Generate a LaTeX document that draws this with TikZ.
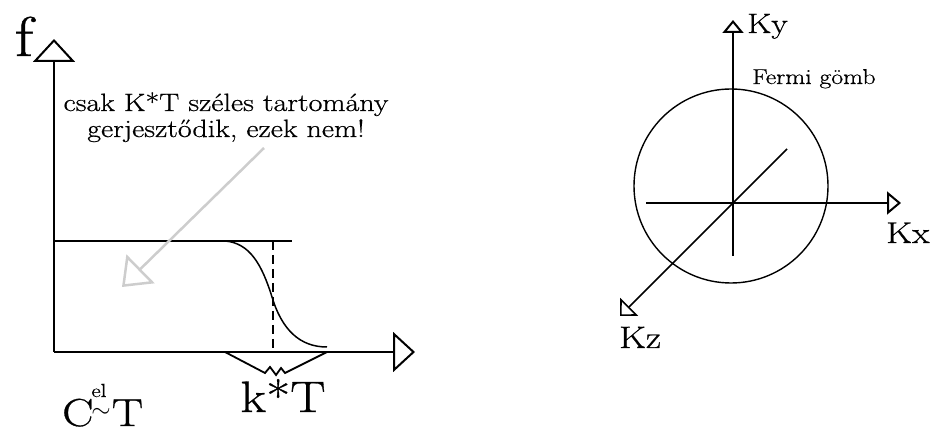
\documentclass[tikz,border=0pt]{standalone}
\usepackage{fontspec}
\setmainfont{Latin Modern Roman}[FakeStretch=1.2,FakeBold=0.7]
\usepackage{tikz}
\usetikzlibrary{arrows.meta}
\definecolor{hintgray}{RGB}{205,205,205}

\begin{document}
\begin{tikzpicture}[x=1pt,y=-1pt,
  axis/.style={line width=2pt},
  bigtip/.style={-{Triangle[open,length=23pt,width=42pt]}},
  smalltip/.style={-{Triangle[open,length=14pt,width=23pt]}},
  lbl/.style={inner sep=0pt,anchor=base west}]
\useasboundingbox (0,0) rectangle (931,427);
% eloszlasfuggveny
\coordinate (O) at (54,352);
\coordinate (ftip) at (54,39);
\coordinate (Etip) at (415,352);
\coordinate (top0) at (54,241);
\coordinate (top1) at (292,241);
\coordinate (kink) at (225,241);
\coordinate (mid) at (272,297);
\coordinate (tail) at (327,347);
\coordinate (dtop) at (273,241);
\coordinate (dbot) at (273,352);
\coordinate (bl) at (225,352);
\coordinate (br) at (327,352);
\draw[axis,bigtip] (O) -- (ftip);
\draw[axis,-{Triangle[open,length=22pt,width=40pt]}] (O) -- (Etip);
\draw[axis] (top0) -- (top1);
\draw[line width=1.5pt] (kink) .. controls (250,243) and (262,265) .. (mid)
  .. controls (282,330) and (300,347) .. (tail);
\draw[line width=2.5pt,dash pattern=on 9pt off 5pt] (dtop) -- (dbot);
\draw[line width=1.8pt] (bl) -- (265,373) -- (270,367) -- (276,375) -- (281,368)
  -- (285,373) -- (br);
\node[inner sep=0pt,anchor=base] (f) at (24,56) {\fontsize{56}{56}\selectfont f};
\node[inner sep=0pt,anchor=base] (line1) at (226,111)
  {\fontsize{25}{28}\selectfont csak K*T széles tartomány};
\node[inner sep=0pt,anchor=base] (line2) at (226,137)
  {\fontsize{25}{28}\selectfont gerjesztődik, ezek nem!};
\coordinate (hstart) at (264,148);
\coordinate (htip) at (122,287);
\draw[hintgray,line width=2.5pt,-{Triangle[open,length=26pt,width=40pt]}] (hstart) -- (htip);
\node[inner sep=0pt,anchor=base] (kT) at (283,412) {\fontsize{44}{44}\selectfont k*T};
\node[lbl] (Cel) at (62,426)
  {\fontsize{39}{39}\selectfont C\hspace{-2pt}\rlap{\raisebox{29pt}{\fontsize{19}{19}\selectfont el}}%
   \raisebox{9pt}{\fontsize{26}{26}\selectfont$\sim$}\hspace{1pt}T};
% Fermi gomb
\coordinate (c) at (731,186);
\coordinate (k0) at (733,203);
\coordinate (kyb) at (733,256);
\coordinate (kyt) at (733,20);
\coordinate (kxl) at (646,203);
\coordinate (kxr) at (901,203);
\coordinate (kzb) at (787,149);
\coordinate (kzt) at (620,316);
\draw[line width=1.4pt] (c) circle[radius=97pt];
\draw[axis,-{Triangle[open,length=13pt,width=21pt]}] (kyb) -- (kyt);
\draw[axis,smalltip] (kxl) -- (kxr);
\draw[line width=1.6pt,-{Triangle[open,length=13pt,width=25pt]}] (kzb) -- (kzt);
\node[lbl] (Ky) at (747,33) {\fontsize{28}{28}\selectfont Ky};
\node[lbl] (Kx) at (886,243) {\fontsize{30}{30}\selectfont Kx};
\node[lbl] (Kz) at (619,348) {\fontsize{31}{31}\selectfont Kz};
\node[lbl] (gomb) at (752,84) {\fontsize{21.5}{21.5}\selectfont Fermi gömb};
\end{tikzpicture}
\end{document}
